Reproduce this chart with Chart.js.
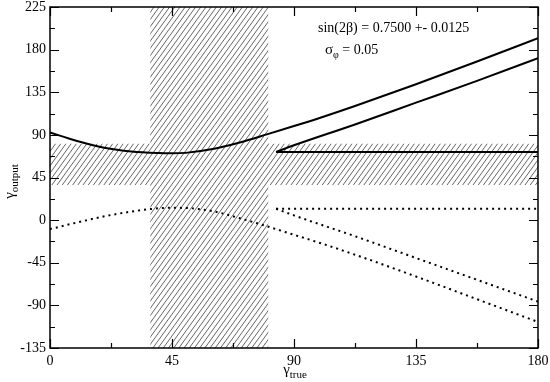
<!DOCTYPE html>
<html><head><meta charset="utf-8">
<script src="https://cdn.jsdelivr.net/npm/chart.js@4/dist/chart.umd.min.js"></script>
<style>html,body{margin:0;padding:0;background:#fff}</style>
</head><body><canvas id="c" width="550" height="382"></canvas>
<script>
const xTicks=[0,45,90,135,180];
const yTicks=[-135,-90,-45,0,45,90,135,180,225];
const xMinor=[22.5,67.5,112.5,157.5];
const yMinor=[-112.5,-67.5,-22.5,22.5,67.5,112.5,157.5,202.5];
const x1=[0,10,20,30,40,45,50,60,70,80,90,100,112.5,135,157.5,180];
const solid1=[92.5,83.5,76.5,72.5,70.8,70.5,71,75,82,90.5,99.3,108.4,120.5,143.5,167.5,192];
const dotted1=[-9.5,-2.5,4,9,12.5,13,12.8,9.5,2,-6.5,-15.5,-24.5,-36.5,-59.5,-83.5,-107.5];
const x2=[83.4,90,112.5,135,157.5,180];
const solid2=[72,79,101,124,147,171];
const dotted2=[12,5,-17,-40,-63,-86];
const flatX=[83.4,180];
const flatSolid=[72,72];
const flatDotted=[12,12];
const bandX=[37,80.5];
const bandY=[37,80.5];
const noteLine1="sin(2β) = 0.7500 +- 0.0125";
const noteSigma="σ", noteSub="φ", noteRest=" = 0.05";

const FONT="'Liberation Serif','Times New Roman',serif";
function pts(xs,ys){return xs.map((v,i)=>({x:v,y:ys[i]}));}
function ds(xs,ys,dotted){
  return {data:pts(xs,ys),borderColor:'#000',borderWidth:2,pointRadius:0,
    showLine:true,fill:false,cubicInterpolationMode:'monotone',
    borderDash:dotted?[2,4]:[],borderCapStyle:'butt'};
}
const deco={id:'deco',
  beforeDatasetsDraw(chart){
    const {ctx,chartArea:a,scales:{x,y}}=chart;
    ctx.save();
    ctx.beginPath();
    const vx0=x.getPixelForValue(bandX[0]),vx1=x.getPixelForValue(bandX[1]);
    ctx.rect(vx0,a.top,vx1-vx0,a.bottom-a.top);
    const hy0=y.getPixelForValue(bandY[1]),hy1=y.getPixelForValue(bandY[0]);
    ctx.rect(a.left,hy0,a.right-a.left,hy1-hy0);
    ctx.clip();
    ctx.strokeStyle='#555';ctx.lineWidth=0.9;
    const h=a.bottom-a.top, sp=5.2, sl=0.72;
    ctx.beginPath();
    for(let px=a.left-h*sl; px<a.right+5; px+=sp){
      ctx.moveTo(px,a.bottom); ctx.lineTo(px+h*sl,a.top);
    }
    ctx.stroke();
    ctx.restore();
  },
  afterDraw(chart){
    const {ctx,chartArea:a,scales:{x,y}}=chart;
    ctx.save();
    ctx.strokeStyle='#000';ctx.lineWidth=1.5;
    ctx.strokeRect(a.left,a.top,a.right-a.left,a.bottom-a.top);
    ctx.lineWidth=1.2;
    ctx.beginPath();
    const tick=(vals,len)=>{
      vals.forEach(v=>{
        const px=Math.round(x.getPixelForValue(v))+0.5;
        ctx.moveTo(px,a.bottom);ctx.lineTo(px,a.bottom-len);
        ctx.moveTo(px,a.top);ctx.lineTo(px,a.top+len);
      });
    };
    const tickY=(vals,len)=>{
      vals.forEach(v=>{
        const py=Math.round(y.getPixelForValue(v))+0.5;
        ctx.moveTo(a.left,py);ctx.lineTo(a.left+len,py);
        ctx.moveTo(a.right,py);ctx.lineTo(a.right-len,py);
      });
    };
    tick(xTicks,9);tick(xMinor,5);tickY(yTicks,9);tickY(yMinor,5);
    ctx.stroke();
    ctx.fillStyle='#000';
    ctx.textBaseline='alphabetic';ctx.textAlign='left';
    const cx=(a.left+a.right)/2;
    const g='γ';
    ctx.font='15px '+FONT; const gw=ctx.measureText(g).width;
    ctx.font='11px '+FONT; const tw=ctx.measureText('true').width;
    let sx=cx-(gw+tw)/2+1;
    ctx.font='15px '+FONT; ctx.fillText(g,sx,374);
    ctx.font='11px '+FONT; ctx.fillText('true',sx+gw,378);
    ctx.save();
    ctx.translate(14,(a.top+a.bottom)/2+4);
    ctx.rotate(-Math.PI/2);
    ctx.font='11px '+FONT; const ow=ctx.measureText('output').width;
    const yx=-(gw+ow)/2;
    ctx.font='15px '+FONT; ctx.fillText(g,yx,0);
    ctx.font='11px '+FONT; ctx.fillText('output',yx+gw,4);
    ctx.restore();
    ctx.font='14px '+FONT;
    ctx.fillText(noteLine1,318,32);
    ctx.font='15px '+FONT;
    ctx.fillText(noteSigma,325,54);
    const sw=ctx.measureText(noteSigma).width;
    ctx.font='10px '+FONT;
    ctx.fillText(noteSub,325+sw,58);
    const pw=ctx.measureText(noteSub).width;
    ctx.font='14px '+FONT;
    ctx.fillText(noteRest,325+sw+pw,54);
    ctx.restore();
  }
};
new Chart(document.getElementById('c'),{
  type:'scatter',
  data:{datasets:[
    ds(x1,solid1,false),ds(x1,dotted1,true),
    ds(x2,solid2,false),ds(x2,dotted2,true),
    ds(flatX,flatSolid,false),ds(flatX,flatDotted,true)
  ]},
  options:{
    responsive:false,animation:false,
    layout:{padding:{top:7,right:12,left:0,bottom:0}},
    plugins:{legend:{display:false},tooltip:{enabled:false}},
    scales:{
      x:{type:'linear',min:0,max:180,
        afterBuildTicks:s=>{s.ticks=xTicks.map(v=>({value:v}));},
        afterFit:s=>{s.height=34;s.paddingLeft=0;s.paddingRight=0;},
        grid:{display:false,drawTicks:false},border:{display:false},
        ticks:{color:'#000',font:{family:FONT,size:14},padding:5,maxRotation:0,autoSkip:false}},
      y:{type:'linear',min:-135,max:225,
        afterBuildTicks:s=>{s.ticks=yTicks.map(v=>({value:v}));},
        afterFit:s=>{s.width=50;s.paddingTop=0;s.paddingBottom=0;},
        grid:{display:false,drawTicks:false},border:{display:false},
        ticks:{color:'#000',font:{family:FONT,size:14},padding:4,autoSkip:false}}
    }
  },
  plugins:[deco]
});
</script></body></html>
